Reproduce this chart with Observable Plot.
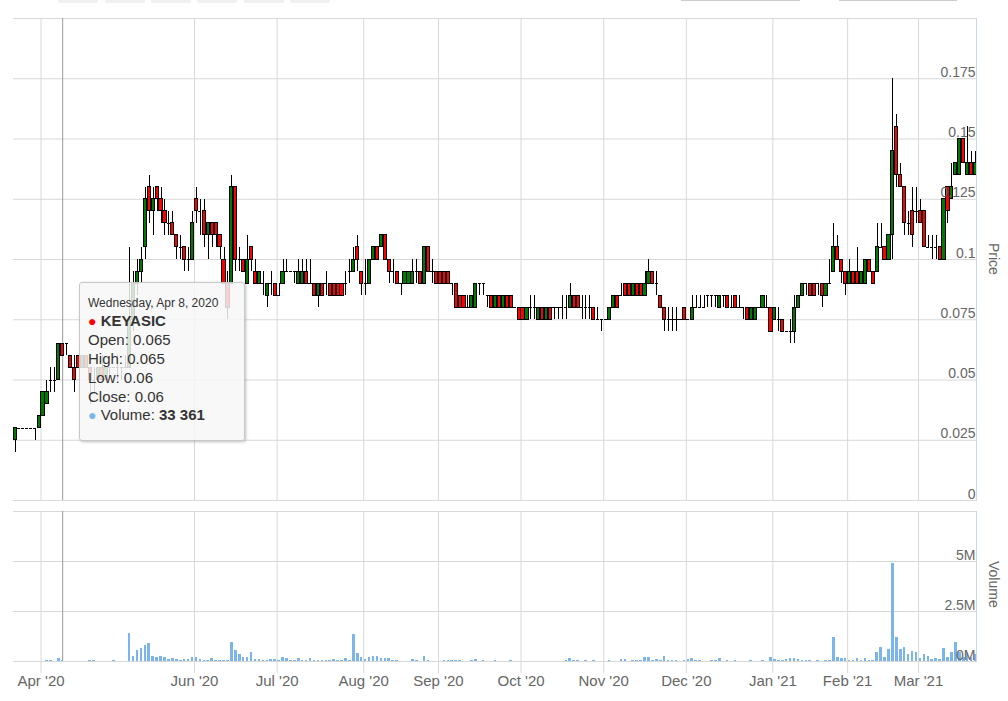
<!DOCTYPE html>
<html><head><meta charset="utf-8">
<script src="https://cdn.jsdelivr.net/npm/d3@7"></script>
<script src="https://cdn.jsdelivr.net/npm/@observablehq/plot@0.6"></script>
<style>
body{margin:0;background:#fff;font-family:"Liberation Sans",Arial,sans-serif;}
#wrap{position:relative;width:1008px;height:701px;overflow:hidden;background:#fff;}
.pane{position:absolute;left:0;}
.btn{position:absolute;top:-22px;height:25px;width:40px;background:#f0f0f0;border-radius:2px;}
.inp{position:absolute;top:-22px;height:23px;border:1px solid #cccccc;background:#fff;box-sizing:border-box;}
.axt{position:absolute;writing-mode:vertical-rl;font-size:14px;color:#666;line-height:14px;}
.vline{position:absolute;width:1px;background:#ccd6eb;}
#tip{position:absolute;left:79px;top:282px;width:156px;height:146px;background:rgba(247,247,247,0.85);
 border:1px solid #c8c8c8;border-radius:3px;box-shadow:1px 1px 3px rgba(0,0,0,0.25);
 padding:10.6px 0 0 8px;box-sizing:content-box;color:#333;font-size:15px;line-height:18.8px;white-space:nowrap;}
#tip .hd{font-size:12px;}
#tip .dot{font-size:14px;}
</style></head><body><div id="wrap"></div>
<script>
// ---- data ----
const holidays = ["2020-05-01","2020-05-07","2020-05-25","2020-05-26","2020-06-08","2020-07-31",
  "2020-08-20","2020-08-31","2020-09-16","2020-10-29","2020-12-25","2021-01-01","2021-01-28",
  "2021-02-01","2021-02-12"];
const firstDay = "2020-03-23", lastDay = "2021-03-19";
const tickMonths = ["2020-04","2020-06","2020-07","2020-08","2020-09","2020-10","2020-11","2020-12","2021-01","2021-02","2021-03"];
const priceTicks = [0,0.025,0.05,0.075,0.1,0.125,0.15,0.175,0.2];
const volumeTicks = [0,2500000,5000000,7500000];
const seriesName = "KEYASIC";
const hoverDay = "2020-04-08";

const open = [
.025,.03,.03,.03,.03,.03,.03,.035,.04,.05,
.05,.05,.065,.065,.06,.055,.06,.055,.06,.055,
.05,.05,.055,.05,.055,.055,.055,.055,.055,.055,
.075,.09,.095,.105,.13,.12,.13,.125,.12,.115,
.115,.11,.105,.105,.1,.1,.125,.12,.12,.11,
.115,.115,.11,.1,.09,.09,.13,.1,.1,.09,
.105,.095,.09,.09,.085,.09,.09,.085,.09,.095,
.095,.095,.09,.09,.095,.09,.09,.085,.09,.09,
.09,.09,.09,.09,.09,.095,.095,.105,.095,.09,
.09,.1,.105,.105,.11,.1,.095,.095,.09,.09,
.09,.09,.095,.095,.09,.105,.095,.095,.095,.095,
.095,.09,.09,.085,.085,.08,.08,.08,.09,.09,
.085,.085,.08,.085,.08,.085,.085,.08,.08,.08,
.075,.08,.08,.075,.08,.075,.08,.08,.08,.08,
.08,.08,.085,.085,.08,.08,.08,.08,.075,.075,
.075,.075,.08,.085,.085,.09,.09,.085,.09,.09,
.085,.09,.095,.09,.085,.08,.075,.075,.075,.075,
.08,.075,.075,.08,.08,.08,.085,.085,.085,.08,
.085,.085,.08,.085,.08,.08,.08,.075,.075,.08,
.08,.08,.08,.075,.075,.075,.07,.07,.07,.08,
.085,.09,.09,.09,.09,.09,.085,.09,.095,.105,
.1,.095,.09,.095,.095,.09,.09,.1,.095,.095,
.105,.105,.1,.11,.155,.135,.13,.115,.12,.12,
.12,.12,.105,.105,.105,.105,.1,.13,.125,.135,
.135,.15,.135,.14,.135];
const high = [
.03,.03,.03,.03,.03,.03,.035,.045,.05,.055,
.055,.065,.065,.065,.06,.06,.06,.06,.06,.055,
.055,.055,.06,.055,.055,.055,.06,.055,.06,.105,
.095,.1,.105,.13,.135,.13,.13,.13,.125,.12,
.12,.11,.11,.105,.105,.12,.13,.125,.125,.115,
.115,.115,.11,.105,.095,.135,.13,.105,.1,.11,
.105,.1,.095,.095,.09,.095,.09,.09,.1,.1,
.095,.095,.1,.1,.1,.1,.09,.09,.09,.095,
.09,.09,.09,.09,.095,.1,.105,.11,.095,.1,
.1,.105,.105,.11,.11,.1,.1,.095,.09,.095,
.095,.1,.1,.095,.105,.105,.1,.095,.095,.095,
.095,.09,.09,.085,.085,.085,.085,.09,.09,.09,
.085,.085,.085,.085,.085,.085,.085,.08,.08,.08,
.08,.085,.085,.08,.08,.08,.08,.08,.08,.085,
.085,.09,.085,.085,.085,.085,.085,.08,.08,.075,
.075,.08,.085,.085,.09,.09,.09,.09,.09,.09,
.095,.1,.095,.095,.085,.08,.08,.08,.08,.075,
.08,.075,.085,.085,.085,.085,.085,.085,.085,.085,
.085,.085,.085,.085,.085,.08,.08,.08,.08,.08,
.085,.085,.08,.08,.08,.075,.07,.075,.085,.085,
.09,.09,.09,.09,.09,.09,.09,.1,.115,.11,
.1,.095,.1,.095,.105,.095,.1,.1,.095,.115,
.115,.105,.11,.175,.16,.14,.13,.12,.13,.13,
.125,.12,.11,.11,.11,.105,.125,.13,.14,.14,
.15,.15,.155,.145,.145];
const low = [
.02,.03,.03,.03,.03,.025,.03,.035,.04,.045,
.045,.05,.06,.06,.055,.045,.055,.055,.055,.04,
.045,.05,.05,.05,.05,.055,.05,.05,.055,.055,
.07,.085,.09,.1,.115,.11,.12,.115,.11,.11,
.11,.1,.1,.095,.095,.1,.115,.11,.105,.1,
.105,.105,.1,.09,.075,.09,.095,.095,.095,.09,
.095,.09,.09,.085,.08,.085,.085,.085,.09,.095,
.095,.09,.09,.09,.09,.09,.085,.08,.085,.085,
.085,.085,.085,.085,.085,.09,.095,.095,.085,.085,
.09,.1,.1,.105,.1,.09,.09,.09,.085,.09,
.09,.09,.09,.09,.09,.095,.09,.09,.09,.09,
.09,.085,.08,.08,.08,.08,.08,.08,.085,.085,
.08,.08,.08,.08,.08,.08,.08,.08,.075,.075,
.075,.075,.075,.075,.075,.075,.075,.075,.075,.075,
.075,.08,.08,.08,.075,.075,.075,.075,.075,.07,
.075,.075,.08,.08,.085,.085,.085,.085,.085,.085,
.085,.09,.09,.085,.08,.07,.07,.07,.07,.075,
.075,.075,.075,.08,.08,.08,.08,.08,.08,.08,
.08,.08,.08,.08,.08,.075,.075,.075,.075,.08,
.08,.08,.07,.075,.07,.07,.07,.065,.065,.08,
.085,.085,.085,.085,.085,.08,.085,.09,.095,.1,
.09,.085,.09,.09,.09,.09,.09,.095,.09,.095,
.105,.1,.1,.1,.13,.13,.11,.11,.105,.115,
.115,.105,.105,.1,.1,.1,.1,.115,.125,.135,
.135,.14,.135,.135,.135];
const close = [
.03,.03,.03,.03,.03,.03,.035,.045,.045,.05,
.05,.065,.06,.065,.055,.05,.055,.06,.055,.05,
.05,.055,.05,.055,.055,.055,.055,.055,.055,.075,
.09,.095,.1,.125,.12,.125,.125,.12,.115,.115,
.11,.105,.105,.1,.1,.115,.12,.12,.11,.115,
.11,.11,.105,.09,.08,.13,.1,.1,.095,.1,
.1,.09,.095,.09,.09,.09,.085,.085,.095,.095,
.095,.095,.095,.095,.09,.09,.085,.09,.085,.09,
.085,.085,.085,.085,.09,.095,.1,.1,.09,.09,
.1,.105,.1,.11,.1,.095,.095,.09,.09,.095,
.095,.095,.095,.09,.105,.095,.095,.09,.09,.09,
.09,.09,.08,.08,.08,.08,.085,.09,.09,.09,
.085,.08,.085,.08,.085,.08,.08,.08,.075,.075,
.08,.08,.08,.08,.075,.08,.075,.08,.08,.08,
.08,.085,.08,.08,.08,.08,.08,.075,.075,.075,
.075,.08,.085,.08,.085,.085,.085,.09,.085,.085,
.09,.095,.09,.09,.08,.075,.075,.075,.075,.075,
.075,.075,.08,.08,.08,.08,.085,.085,.085,.085,
.085,.08,.08,.08,.08,.08,.075,.08,.08,.08,
.085,.08,.07,.08,.075,.07,.07,.07,.08,.085,
.09,.09,.085,.085,.09,.085,.09,.09,.105,.1,
.095,.09,.095,.09,.09,.095,.1,.095,.09,.105,
.105,.1,.11,.145,.135,.13,.115,.115,.11,.12,
.115,.105,.105,.105,.105,.1,.125,.12,.13,.14,
.15,.14,.14,.135,.14];
const volume = [
20000,15000,0,0,0,0,15000,20000,30000,60000,
20000,150000,33361,0,0,20000,20000,0,0,30000,
40000,25000,25000,25000,25000,70000,0,10000,20000,1400000,
250000,550000,650000,800000,880000,250000,220000,250000,180000,100000,
130000,100000,50000,100000,100000,220000,220000,100000,30000,30000,
150000,40000,40000,40000,60000,950000,550000,330000,220000,220000,
430000,100000,100000,30000,30000,80000,80000,30000,200000,150000,
30000,30000,150000,40000,30000,150000,40000,30000,60000,30000,
30000,80000,30000,30000,150000,50000,1330000,380000,220000,100000,
220000,270000,270000,150000,150000,150000,30000,30000,20000,0,
0,80000,30000,20000,250000,30000,20000,20000,0,30000,
30000,30000,50000,30000,20000,0,30000,80000,20000,30000,
0,20000,30000,20000,0,20000,30000,0,20000,20000,
0,0,20000,0,0,0,0,20000,0,0,
30000,150000,40000,30000,0,30000,0,30000,0,20000,
0,30000,0,0,80000,80000,20000,30000,30000,30000,
180000,220000,60000,80000,40000,250000,40000,40000,30000,0,
30000,120000,150000,40000,30000,0,20000,40000,40000,150000,
20000,30000,20000,30000,20000,0,20000,30000,20000,0,
30000,0,220000,80000,30000,50000,100000,130000,130000,100000,
40000,40000,30000,20000,30000,20000,30000,30000,1200000,220000,
150000,150000,60000,50000,150000,40000,150000,30000,60000,450000,
720000,220000,580000,4900000,1220000,580000,720000,330000,520000,470000,
150000,330000,270000,120000,150000,100000,650000,220000,450000,950000,
470000,200000,400000,200000,350000];

// ---- trading days ----
const dates = [];
for (let t = new Date(firstDay + "T00:00:00Z"); t <= new Date(lastDay + "T00:00:00Z"); t = new Date(+t + 864e5)) {
  const dow = t.getUTCDay(), s = t.toISOString().slice(0, 10);
  if (dow > 0 && dow < 6 && !holidays.includes(s)) dates.push(s);
}
const n = dates.length;
[open, high, low, close, volume].forEach((a, k) => { if (a.length !== n) throw new Error("array " + k + " length " + a.length + " != " + n); });
const rows = dates.map((date, i) => ({date, open: open[i], high: high[i], low: low[i], close: close[i], volume: volume[i]}));
const tickDates = tickMonths.map(m => dates.find(d => d.startsWith(m)));
const toDate = s => new Date(s + "T00:00:00Z");
const fmtMonth = d => d3.utcFormat("%b '%y")(toDate(d));

const GRID = "#d8d8d8", TXT = "#666";
const FONT = "'Liberation Sans', Arial, sans-serif";
const W = 1008, L = 13, R = 31;
// month ticks sit at the boundary before the month's first session (half a session earlier)
const halfStep = -((W - L - R) / n) / 2;

const wrap = document.getElementById("wrap");

// range selector remnants (cut off at top)
[58, 105, 151, 197, 244, 290].forEach(x => { const b = document.createElement("div"); b.className = "btn"; b.style.left = x + "px"; wrap.appendChild(b); });
[[681, 119], [839, 118]].forEach(([x, w]) => { const b = document.createElement("div"); b.className = "inp"; b.style.left = x + "px"; b.style.width = w + "px"; wrap.appendChild(b); });

// ---- price pane ----
const pricePlot = Plot.plot({
  width: W, height: 506, marginLeft: L, marginRight: R, marginTop: 18, marginBottom: 6,
  style: {fontFamily: FONT, fontSize: "14px", background: "transparent"},
  x: {type: "band", domain: dates, paddingInner: 0.2, paddingOuter: 0.1, axis: null},
  y: {domain: [0, 0.2], axis: null},
  color: {type: "identity"},
  marks: [
    Plot.gridY(priceTicks, {stroke: GRID, strokeOpacity: 1}),
    Plot.gridX(tickDates, {stroke: GRID, strokeOpacity: 1, dx: halfStep}),
    Plot.ruleX([hoverDay], {stroke: "#9a9a9a", strokeWidth: 1}),
    Plot.ruleX(rows, {x: "date", y1: "low", y2: "high", stroke: "#000", strokeWidth: 1, shapeRendering: "crispEdges"}),
    Plot.barY(rows.filter(d => d.open !== d.close), {x: "date", y1: "open", y2: "close",
      fill: d => d.close > d.open ? "#007a00" : "#ff0000", stroke: "#000", strokeWidth: 1, shapeRendering: "crispEdges"}),
    Plot.tickY(rows.filter(d => d.open === d.close), {x: "date", y: "close", stroke: "#000", strokeWidth: 1, shapeRendering: "crispEdges"}),
    Plot.axisY(priceTicks.filter(v => v < 0.2), {anchor: "right", tickSize: 0, tickPadding: -2, textAnchor: "end",
      lineAnchor: "bottom", dy: -2, tickFormat: v => String(v), fill: TXT, fontSize: 14, label: null})
  ]
});
pricePlot.classList.add("pane"); pricePlot.style.top = "0px";
wrap.appendChild(pricePlot);

// ---- volume pane ----
const volPlot = Plot.plot({
  width: W, height: 201, marginLeft: L, marginRight: R, marginTop: 11, marginBottom: 40,
  style: {fontFamily: FONT, fontSize: "14px", background: "transparent", overflow: "visible"},
  x: {type: "band", domain: dates, paddingInner: 0.35, paddingOuter: 0.175, axis: null},
  y: {domain: [0, 7500000], axis: null},
  marks: [
    Plot.gridY(volumeTicks, {stroke: GRID, strokeOpacity: 1}),
    Plot.gridX(tickDates, {stroke: GRID, strokeOpacity: 1, dx: halfStep}),
    Plot.ruleX([hoverDay], {stroke: "#9a9a9a", strokeWidth: 1}),
    Plot.barY(rows, {x: "date", y: "volume", fill: "#7cb5ec", shapeRendering: "crispEdges"}),
    Plot.axisY(volumeTicks.filter(v => v < 7500000), {anchor: "right", tickSize: 0, tickPadding: -2, textAnchor: "end",
      lineAnchor: "bottom", dy: -2, tickFormat: v => (v / 1e6) + "M", fill: TXT, fontSize: 14, label: null}),
    Plot.axisX(tickDates, {anchor: "bottom", tickSize: 12, tickPadding: 2, tickFormat: fmtMonth, dx: halfStep,
      stroke: GRID, fill: TXT, fontSize: 15, label: null})
  ]
});
volPlot.classList.add("pane"); volPlot.style.top = "500px";
wrap.appendChild(volPlot);

const hi = dates.indexOf(hoverDay);

// axis lines on the right
[[18, 482], [511, 150]].forEach(([t, h]) => { const v = document.createElement("div"); v.className = "vline"; v.style.left = "976px"; v.style.top = t + "px"; v.style.height = h + "px"; wrap.appendChild(v); });

// axis titles
[["Price", 243], ["Volume", 561]].forEach(([s, t]) => { const a = document.createElement("div"); a.className = "axt"; a.textContent = s; a.style.left = "987px"; a.style.top = t + "px"; wrap.appendChild(a); });

// tooltip
const r = rows[hi];
const tip = document.createElement("div");
tip.id = "tip";
const volFmt = v => d3.format(",")(v).replace(/,/g, " ");
tip.innerHTML =
  `<div class="hd">${d3.utcFormat("%A, %b %-d, %Y")(toDate(r.date))}</div>` +
  `<div><span class="dot" style="color:#ff0000">&#9679;</span> <b>${seriesName}</b></div>` +
  `<div>Open: ${r.open}</div><div>High: ${r.high}</div><div>Low: ${r.low}</div><div>Close: ${r.close}</div>` +
  `<div><span class="dot" style="color:#7cb5ec">&#9679;</span> Volume: <b>${volFmt(r.volume)}</b></div>`;
wrap.appendChild(tip);
</script>
</body></html>
